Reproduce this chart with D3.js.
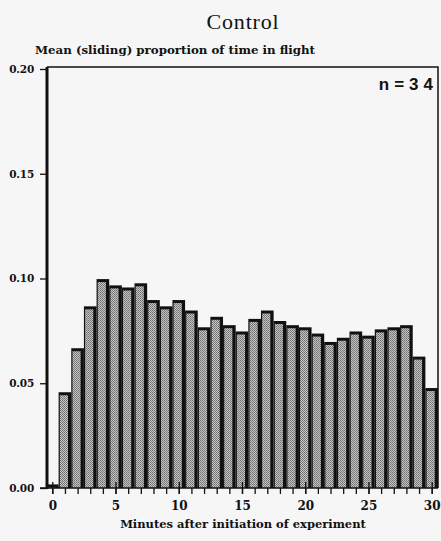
<!DOCTYPE html>
<html><head><meta charset="utf-8">
<script src="https://cdn.jsdelivr.net/npm/d3@7"></script>
<style>
html,body{margin:0;padding:0;background:#f6f6f6;}
svg{display:block;}
</style></head>
<body>
<script>
const minutes = d3.range(0, 31);
const proportion = [0.001, 0.045, 0.066, 0.086, 0.099, 0.096, 0.095, 0.097, 0.089, 0.086, 0.089, 0.084,
  0.076, 0.081, 0.077, 0.074, 0.080, 0.084, 0.079, 0.077, 0.076, 0.073, 0.069, 0.071, 0.074,
  0.072, 0.075, 0.076, 0.077, 0.062, 0.047];
const yTicks = [0, 0.05, 0.10, 0.15, 0.20];
const xTicks = [0, 5, 10, 15, 20, 25, 30];

(function () {
const W = 441, H = 541;
const svg = d3.select("body").append("svg").attr("width", W).attr("height", H);
const serif = "DejaVu Serif, serif";

const defs = svg.append("defs");
const pat = defs.append("pattern").attr("id", "stip").attr("patternUnits", "userSpaceOnUse")
  .attr("width", 2).attr("height", 2);
pat.append("rect").attr("width", 2).attr("height", 2).attr("fill", "#c4c4c4");
pat.append("rect").attr("width", 1).attr("height", 1).attr("fill", "#707070");
pat.append("rect").attr("x", 1).attr("y", 1).attr("width", 1).attr("height", 1).attr("fill", "#808080");

const x = d3.scaleLinear().domain([0, 30]).range([52.3, 431.7]);
const y = d3.scaleLinear().domain([0, 0.20]).range([488, 69]);
const step = x(1) - x(0);

// frame
const fTop = 67, fRight = 438, fLeft = 47, base = 488;
svg.append("path").attr("d", `M${fLeft},${fTop}H${fRight}V${base}`)
  .attr("fill", "none").attr("stroke", "#111").attr("stroke-width", 1.5);

// bars
const g = svg.append("g");
minutes.forEach((m, i) => {
  const v = proportion[i];
  const x0 = x(m) - step / 2, x1 = x(m) + step / 2;
  const yt = y(v);
  g.append("rect").attr("x", x0).attr("y", yt - 1.5).attr("width", x1 - x0).attr("height", base - yt + 1.5)
    .attr("fill", "#111");
  const ih = base - yt - 1.5;
  if (ih > 0) {
    g.append("rect").attr("x", x0 + 1.2).attr("y", yt + 1.5).attr("width", x1 - x0 - 4.5).attr("height", ih)
      .attr("fill", "url(#stip)");
  }
});

// y axis
const yAxis = d3.axisLeft(y).tickValues(yTicks).tickFormat(d3.format(".2f")).tickSize(7).tickPadding(6);
const ya = svg.append("g").attr("transform", `translate(${fLeft},0)`).call(yAxis);
ya.select(".domain").remove();
ya.selectAll("line").attr("stroke", "#111").attr("stroke-width", 1.3);
ya.selectAll("text").attr("font-family", serif).attr("font-weight", "bold")
  .attr("font-size", 10.5).attr("letter-spacing", -0.2).attr("fill", "#111");
svg.append("line").attr("x1", fLeft).attr("x2", fLeft).attr("y1", fTop).attr("y2", base + 1)
  .attr("stroke", "#111").attr("stroke-width", 3);

// x axis
svg.append("line").attr("x1", 40).attr("x2", fRight).attr("y1", base).attr("y2", base)
  .attr("stroke", "#111").attr("stroke-width", 1.5);
const xMinor = d3.axisBottom(x).tickValues(minutes).tickFormat("").tickSize(6);
const xm = svg.append("g").attr("transform", `translate(0,${base})`).call(xMinor);
xm.select(".domain").remove();
xm.selectAll("line").attr("stroke", "#111").attr("stroke-width", 1.3);
const xMajor = d3.axisBottom(x).tickValues(xTicks).tickFormat(d3.format("d")).tickSize(6).tickPadding(7);
const xa = svg.append("g").attr("transform", `translate(0,${base})`).call(xMajor);
xa.select(".domain").remove();
xa.selectAll("line").attr("stroke", "#111").attr("stroke-width", 1.3).attr("y1", -6);
xa.selectAll("text").attr("font-family", serif).attr("font-weight", "bold")
  .attr("font-size", 12).attr("fill", "#111");

// texts
svg.append("text").attr("x", 243).attr("y", 29).attr("text-anchor", "middle")
  .attr("font-family", "Liberation Serif, serif").attr("font-size", 22).attr("letter-spacing", 0.8)
  .attr("fill", "#111").text("Control");
svg.append("text").attr("x", 35).attr("y", 54)
  .attr("font-family", serif).attr("font-weight", "bold").attr("font-size", 11.8)
  .attr("fill", "#111").text("Mean (sliding) proportion of time in flight");
svg.append("text").attr("x", 243).attr("y", 528).attr("text-anchor", "middle")
  .attr("font-family", serif).attr("font-weight", "bold").attr("font-size", 11.5)
  .attr("fill", "#111").text("Minutes after initiation of experiment");
svg.append("text").attr("x", 438).attr("y", 90).attr("text-anchor", "end")
  .attr("font-family", "Liberation Sans, Arial, sans-serif").attr("font-weight", "bold").attr("font-size", 17)
  .attr("letter-spacing", 5).attr("fill", "#111").text("n=34");
})();
</script>
</body></html>
